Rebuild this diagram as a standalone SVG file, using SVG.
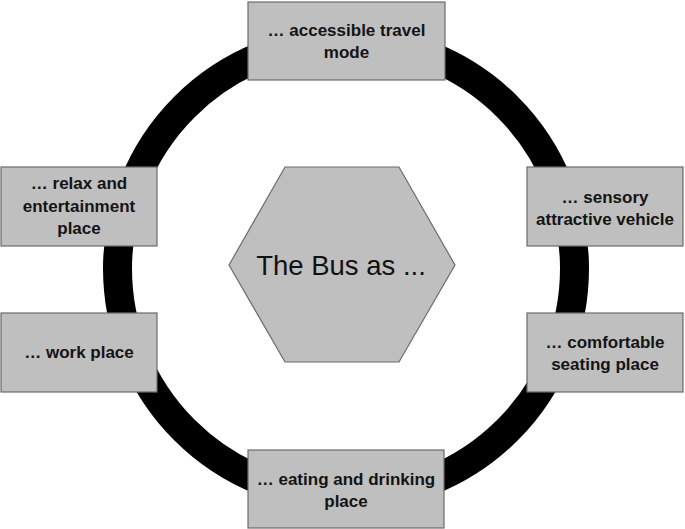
<svg xmlns="http://www.w3.org/2000/svg" width="685" height="529" viewBox="0 0 685 529">
<style>
.box{fill:#bfbfbf;stroke:#6b6b6b;stroke-width:1.2}
.lbl{font-family:"Liberation Sans",Arial,sans-serif;font-weight:bold;font-size:17px;fill:#141414;text-anchor:middle}
.hub{font-family:"Liberation Sans",Arial,sans-serif;font-size:27.5px;fill:#111;text-anchor:middle}
</style>
<rect width="685" height="529" fill="#fff"/>
<g id="connectors">
<circle cx="346" cy="268.5" r="228.5" fill="none" stroke="#000" stroke-width="29"/>
</g>
<g id="hub">
<polygon class="box" points="229,265 285,167 399,167 455,265 399,362 285,362"/>
<text class="hub" x="341" y="275">The Bus as ...</text>
</g>
<g id="n-travel">
<rect class="box" x="248" y="2" width="197" height="78"/>
<text class="lbl" x="346.5" y="36">… accessible travel</text>
<text class="lbl" x="346.5" y="58">mode</text>
</g>
<g id="n-relax">
<rect class="box" x="1" y="167" width="156" height="79"/>
<text class="lbl" x="79" y="189">… relax and</text>
<text class="lbl" x="79" y="211.5">entertainment</text>
<text class="lbl" x="79" y="234">place</text>
</g>
<g id="n-sensory">
<rect class="box" x="527" y="167" width="156" height="79"/>
<text class="lbl" x="605" y="203">… sensory</text>
<text class="lbl" x="605" y="225">attractive vehicle</text>
</g>
<g id="n-work">
<rect class="box" x="1" y="313" width="156" height="79"/>
<text class="lbl" x="79" y="358">… work place</text>
</g>
<g id="n-seating">
<rect class="box" x="527" y="313" width="156" height="79"/>
<text class="lbl" x="605" y="348">… comfortable</text>
<text class="lbl" x="605" y="370">seating place</text>
</g>
<g id="n-eating">
<rect class="box" x="248" y="450" width="196" height="78"/>
<text class="lbl" x="346" y="485">… eating and drinking</text>
<text class="lbl" x="346" y="507">place</text>
</g>
</svg>
